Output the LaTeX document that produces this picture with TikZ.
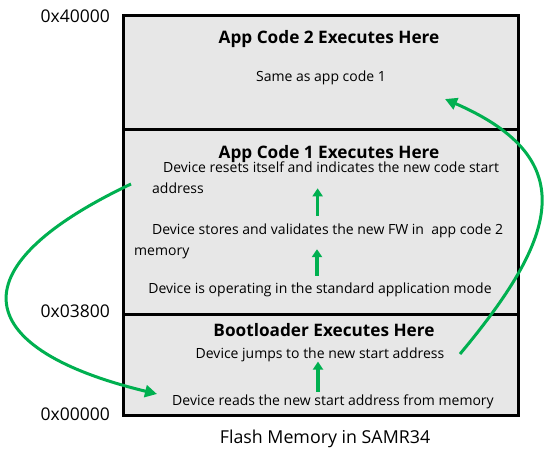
\documentclass[tikz,border=0pt]{standalone}
\usepackage{fontspec}
\setmainfont{Open Sans}
\usetikzlibrary{arrows.meta}
\definecolor{flashgreen}{RGB}{0,176,80}
\definecolor{memgray}{RGB}{231,231,231}
\begin{document}
\begin{tikzpicture}[x=1pt,y=-1pt,
  region/.style={draw=black,line width=3pt,fill=memgray,anchor=north west,minimum width=395pt,inner sep=0pt},
  addr/.style={anchor=base east,font=\fontsize{17.5}{20}\selectfont,inner sep=0pt},
  titletext/.style={anchor=base,font=\bfseries\fontsize{17.2}{20}\selectfont,inner sep=0pt},
  body/.style={font=\fontsize{14}{21}\selectfont,inner sep=0pt},
  bigarrow/.style={draw=flashgreen,line width=3pt,-{Triangle[length=12pt,width=12pt]}},
  smallarrow/.style={draw=flashgreen,line width=3.3pt,-{Triangle[length=8pt,width=10pt]}}]
\useasboundingbox (0,0) rectangle (550,453);
% memory regions
\node[region,minimum height=114pt] (app2) at (122,14) {};
\node[region,minimum height=185pt] (app1) at (122,128) {};
\node[region,minimum height=101pt] (boot) at (122,313) {};
% addresses
\node[addr] (a40000) at (110,22) {0x40000};
\node[addr] (a03800) at (110,317) {0x03800};
\node[addr] (a00000) at (110,420) {0x00000};
% app code 2
\node[titletext] (t2) at (329,43) {App Code 2 Executes Here};
\node[body,anchor=base] (s2) at (321,81) {Same as app code 1};
% app code 1
\node[titletext] (t1) at (329,158) {App Code 1 Executes Here};
\node[body,anchor=base west,align=left] (r1) at (152,193) {\hspace*{11pt}Device resets itself and indicates the new code start\\address};
\node[body,anchor=base west,align=left] (s1) at (134,255) {\hspace*{18pt}Device stores and validates the new FW in\ \ app code 2\\memory};
\node[body,anchor=base] (op) at (320,293) {Device is operating in the standard application mode};
% bootloader
\node[titletext] (tb) at (324,336) {Bootloader Executes Here};
\node[body,anchor=base] (jmp) at (320,358) {Device jumps to the new start address};
\node[body,anchor=base] (rd) at (333,405) {Device reads the new start address from memory};
% caption
\node[anchor=base,font=\fontsize{17.8}{20}\selectfont,inner sep=0pt] (cap) at (325,443) {Flash Memory in SAMR34};
% small arrows
\draw[smallarrow,shorten <=7.4pt,shorten >=-5pt] ([xshift=-1pt]s1.north) -- ([xshift=-1pt]s1.north |- r1.south);
\draw[smallarrow,shorten <=6.4pt,shorten >=-9.4pt] ([xshift=-3pt]op.north) -- ([xshift=-3pt]op.north |- s1.south);
\draw[smallarrow,shorten <=2.4pt,shorten >=0pt] ([xshift=-15pt]rd.north) -- ([xshift=-15pt]rd.north |- jmp.south);
% big arrows
\coordinate (loopstart) at (131,184);
\coordinate (loopend) at (157,394);
\coordinate (jumpstart) at (460,354);
\coordinate (jumpend) at (445,99);
\draw[bigarrow] (loopstart) .. controls (-50,270) and (-25,350) .. (loopend);
\draw[bigarrow] (jumpstart) .. controls (555,240) and (585,160) .. (jumpend);
\end{tikzpicture}
\end{document}
